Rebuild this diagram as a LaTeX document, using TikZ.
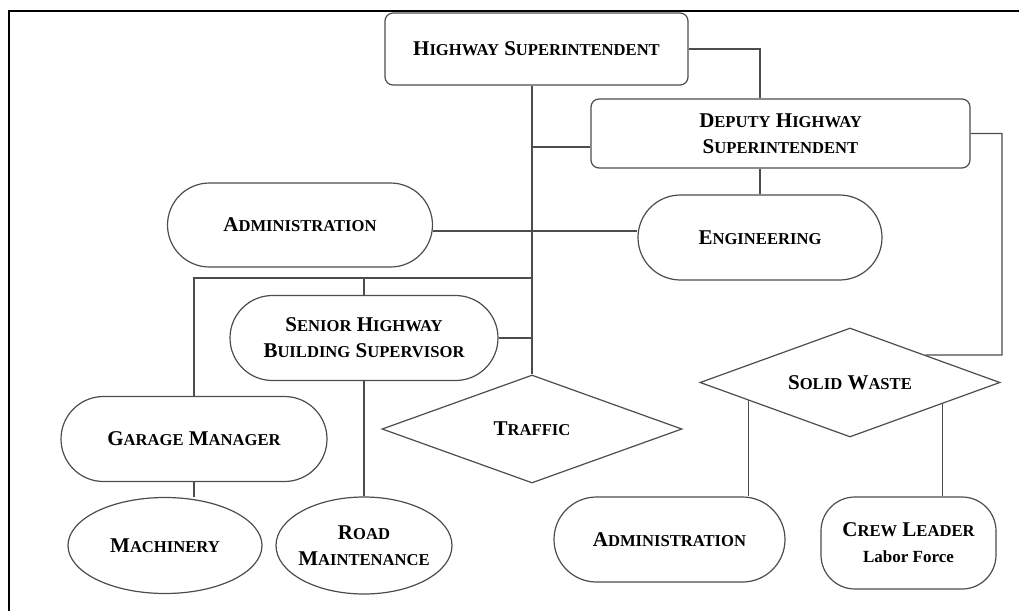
\documentclass[tikz,border=0pt]{standalone}
\usepackage{fontspec}
\setmainfont{Liberation Serif}
\usetikzlibrary{shapes.geometric, shapes.misc}
\tikzset{
  base/.style={draw=black!70, line width=0.6pt, inner sep=0pt, align=center,
    font=\bfseries\fontsize{10.5}{13}\selectfont},
  box/.style={base, rectangle, rounded corners=4pt},
  pill/.style={base, rounded rectangle},
  oval/.style={base, ellipse, inner xsep=-8pt, inner ysep=-4pt},
  choice/.style={base, diamond, aspect=2.8, inner sep=-6pt},
  link/.style={draw=black!70, line width=0.6pt}
}
\newcommand{\capsc}[2]{{\fontsize{10.5}{13}\selectfont #1}{\fontsize{8.3}{13}\selectfont #2}}

\begin{document}
\begin{tikzpicture}[x=0.5pt, y=-0.5pt]
\useasboundingbox (0,0) rectangle (1019,611);
\draw[line width=1pt] (9,611) -- (9,11) -- (1019,11);

% top of the chart
\node[box, minimum width=151.5pt, minimum height=36pt] (hs) at (536.5,49)
  {\capsc{H}{IGHWAY} \capsc{S}{UPERINTENDENT}};
\node[box, minimum width=189.5pt, minimum height=34.5pt] (dep) at (780.5,133.5)
  {\capsc{D}{EPUTY} \capsc{H}{IGHWAY}\\ \capsc{S}{UPERINTENDENT}};
\node[pill, minimum width=132.5pt, minimum height=42pt] (adm) at (300,225)
  {\capsc{A}{DMINISTRATION}};
\node[pill, minimum width=122pt, minimum height=42.5pt] (eng) at (760,237.5)
  {\capsc{E}{NGINEERING}};
\node[pill, minimum width=134pt, minimum height=42.5pt] (sen) at (364,338)
  {\capsc{S}{ENIOR} \capsc{H}{IGHWAY}\\ \capsc{B}{UILDING} \capsc{S}{UPERVISOR}};
\node[choice, minimum width=150pt, minimum height=54pt] (traffic) at (532,429)
  {\capsc{T}{RAFFIC}};
\node[pill, minimum width=133pt, minimum height=42.5pt] (gar) at (194,439)
  {\capsc{G}{ARAGE} \capsc{M}{ANAGER}};
\node[oval, minimum width=97pt, minimum height=48pt] (mach) at (165,545.5)
  {\capsc{M}{ACHINERY}};
\node[oval, minimum width=88pt, minimum height=48.5pt] (road) at (364,545.5)
  {\capsc{R}{OAD}\\ \capsc{M}{AINTENANCE}};

% solid waste branch
\node[choice, minimum width=150pt, minimum height=54.5pt] (sw) at (850,382.5)
  {\capsc{S}{OLID} \capsc{W}{ASTE}};
\node[pill, minimum width=115.5pt, minimum height=42.5pt] (adm2) at (669.5,539.5)
  {\capsc{A}{DMINISTRATION}};
\node[box, rounded corners=17pt, minimum width=87.5pt, minimum height=46pt] (crew) at (908.5,543)
  {\capsc{C}{REW} \capsc{L}{EADER}\\ {\fontsize{8.5}{13}\selectfont Labor Force}};

% connectors
\coordinate (j1) at (532,147);
\coordinate (ae) at (532,231);
\coordinate (bar) at (532,278);
\coordinate (swr) at (1002,355);
\draw[link] (hs.east) -| (dep.north -| eng.north);
\draw[link] (dep.south -| eng.north) -- (eng.north);
\draw[link] (hs.south -| traffic.north) -- (traffic.north);
\draw[link] (j1) -- (j1 -| dep.west);
\draw[link] (ae -| adm.east) -- (ae -| eng.west);
\draw[link] (bar) -- (bar -| gar.north) -- (gar.north);
\draw[link] (bar -| sen.north) -- (sen.north);
\draw[link] (sen.east) -- (sen.east -| traffic.north);
\draw[link] (sen.south) -- (road.north);
\draw[link] (gar.south) -- (gar.south |- mach.north);
\draw[link] (dep.east) -| (swr) -- (sw.north east);
\draw[link] (sw.190) -- (sw.190 |- adm2.north);
\draw[link] (sw.347) -- (sw.347 |- crew.north);
\end{tikzpicture}
\end{document}
